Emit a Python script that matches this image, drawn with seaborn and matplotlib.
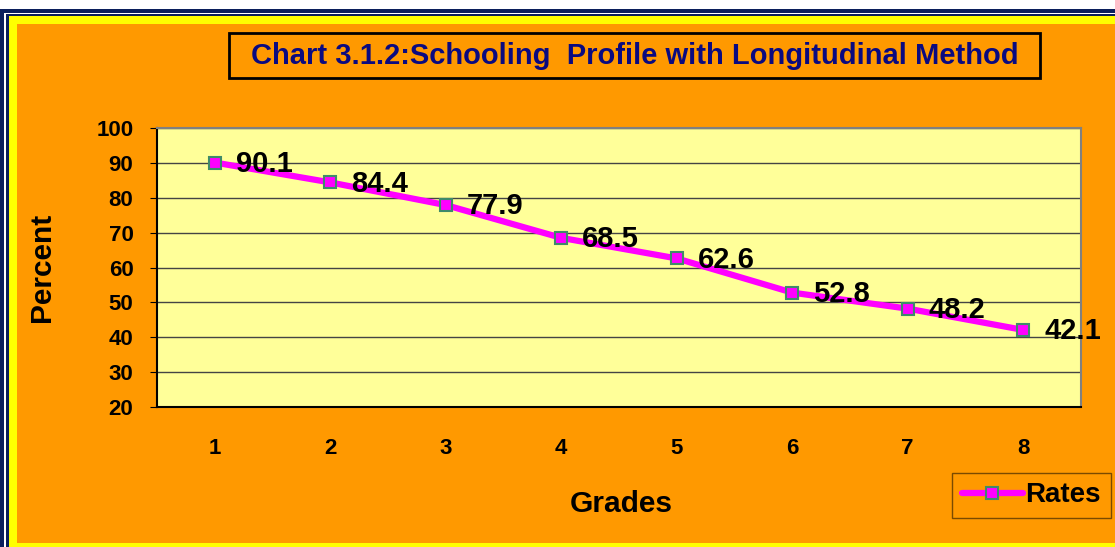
import matplotlib
matplotlib.use("Agg")
import matplotlib.pyplot as plt
from matplotlib.patches import Rectangle
import seaborn as sns
import pandas as pd

# --- data ---
grades = [1, 2, 3, 4, 5, 6, 7, 8]
rates = [90.1, 84.4, 77.9, 68.5, 62.6, 52.8, 48.2, 42.1]
y_ticks = [20, 30, 40, 50, 60, 70, 80, 90, 100]

title = "Chart 3.1.2:Schooling  Profile with Longitudinal Method"
x_label = "Grades"
y_label = "Percent"
series_name = "Rates"

df = pd.DataFrame({"Grades": grades, "Rates": rates})

W, H = 1115, 547
sns.set_style("white")
plt.rcParams['font.family'] = ['Liberation Sans', 'DejaVu Sans']
plt.rcParams['font.weight'] = 'bold'
plt.rcParams['text.color'] = 'black'
plt.rcParams['xtick.color'] = 'black'
plt.rcParams['ytick.color'] = 'black'

fig = plt.figure(figsize=(W / 100, H / 100), dpi=100)
fig.patch.set_facecolor("white")


def px_rect(x0, y0, x1, y1, **kw):
    # rectangle given in pixel coords (y down)
    r = Rectangle((x0 / W, 1 - y1 / H), (x1 - x0) / W, (y1 - y0) / H,
                  transform=fig.transFigure, **kw)
    fig.add_artist(r)
    return r


# --- framed background (navy / white / navy / yellow / orange) ---
px_rect(0, 9, W, H, facecolor="#0b1f5c", edgecolor="none", zorder=0)
px_rect(4, 12.5, W, H, facecolor="white", edgecolor="none", zorder=0)
px_rect(5.5, 14, W, H, facecolor="#0b1f5c", edgecolor="none", zorder=0)
px_rect(8.5, 15.5, W, H, facecolor="#ffff00", edgecolor="none", zorder=0)
px_rect(17, 24, W, 543, facecolor="#ff9900", edgecolor="none", zorder=0)

# --- plot area ---
ax = fig.add_axes([157 / W, 1 - 407 / H, (1081 - 157) / W, (407 - 128) / H])
ax.set_facecolor("#ffff99")

sns.lineplot(data=df, x="Grades", y="Rates", ax=ax, color="#ff00ff",
             linewidth=4.5, marker="s", markersize=9,
             markerfacecolor="#ff00ff", markeredgecolor="#3f8a6a",
             markeredgewidth=1.5, label=series_name, zorder=5)

for g, r in zip(grades, rates):
    ax.annotate(f"{r}", (g, r), xytext=(15, -1), textcoords="offset points",
                ha="left", va="center", fontsize=21, fontweight="bold",
                color="black", zorder=6)

ax.set_xlim(0.5, 8.5)
ax.set_ylim(20, 100)
ax.set_yticks(y_ticks)
ax.yaxis.grid(True, color="#444444", linewidth=1)
ax.set_axisbelow(True)

ax.set_xticks(grades)
ax.set_xticks([g + 0.5 for g in [0] + grades], minor=True)
ax.tick_params(axis="x", which="major", length=0, pad=22, labelsize=16,
               labelcolor="black")
ax.tick_params(axis="x", which="minor", length=6, direction="out", color="black")
ax.tick_params(axis="y", length=5, direction="out", color="black", pad=12,
               labelsize=16, left=True, labelcolor="black")
for lab in ax.get_xticklabels() + ax.get_yticklabels():
    lab.set_fontweight("bold")

for side in ["top", "right"]:
    ax.spines[side].set_color("#808080")
    ax.spines[side].set_linewidth(1.5)
for side in ["left", "bottom"]:
    ax.spines[side].set_color("black")
    ax.spines[side].set_linewidth(1.5)

ax.set_xlabel("")
ax.set_ylabel("")
fig.text(42 / W, 1 - 267 / H, y_label, rotation=90, ha="center", va="center",
         fontsize=21.5, fontweight="bold", color="black")
fig.text(621 / W, 1 - 504 / H, x_label, ha="center", va="center",
         fontsize=21.5, fontweight="bold", color="black")

# --- title box ---
px_rect(229, 33, 1040, 78, facecolor="#ff9900", edgecolor="black",
        linewidth=2, zorder=1)
fig.text(634.5 / W, 1 - 56 / H, title, ha="center", va="center",
         fontsize=21, fontweight="bold", color="#0a0a80", zorder=2)

# --- legend ---
leg = ax.legend(loc="center left", bbox_to_anchor=(952 / W, 1 - 495.5 / H),
                bbox_transform=fig.transFigure, fontsize=20, frameon=True,
                handlelength=2.2, handletextpad=0.1, borderpad=0.35,
                fancybox=False, borderaxespad=0)
leg.get_frame().set_facecolor("#ff9900")
leg.get_frame().set_edgecolor("#7a4a00")
leg.get_frame().set_alpha(1)
for t in leg.get_texts():
    t.set_fontweight("bold")
    t.set_color("black")

fig.savefig("out.png", dpi=100)
